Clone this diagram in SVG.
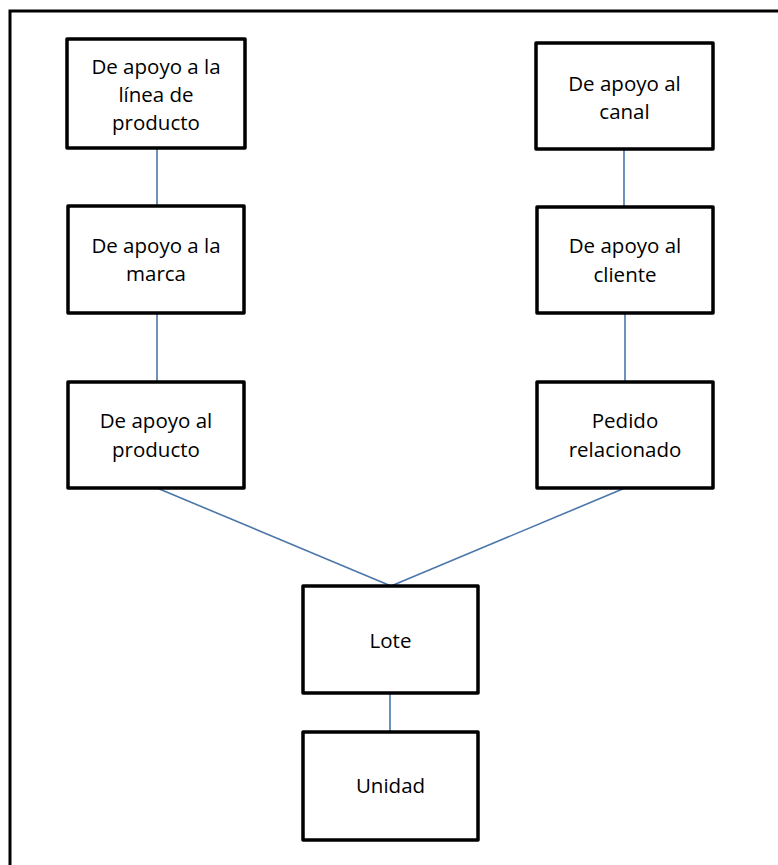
<svg xmlns="http://www.w3.org/2000/svg" width="778" height="865" viewBox="0 0 778 865">
  <style>
    .box { fill: #ffffff; stroke: #000000; stroke-width: 3.5; stroke-linejoin: round; }
    .label { font-family: "Open Sans", "Noto Sans", "Liberation Sans", sans-serif; font-size: 20.5px; fill: #000000; text-anchor: middle; }
    .link { stroke: #4a76aa; stroke-width: 1.6; fill: none; }
  </style>
  <rect width="778" height="865" fill="#ffffff"/>
  <!-- outer frame, open towards the right and bottom edges -->
  <rect x="10" y="11" width="800" height="900" fill="none" stroke="#000000" stroke-width="3"/>

  <g id="connectors">
    <line class="link" x1="157" y1="148" x2="157" y2="206"/>
    <line class="link" x1="157" y1="313" x2="157" y2="382"/>
    <line class="link" x1="624" y1="149" x2="624" y2="207"/>
    <line class="link" x1="625" y1="313" x2="625" y2="382"/>
    <line class="link" x1="157" y1="488" x2="391" y2="586"/>
    <line class="link" x1="625" y1="488" x2="391" y2="586"/>
    <line class="link" x1="390" y1="693" x2="390" y2="732"/>
  </g>

  <g id="linea-producto">
    <rect class="box" x="67" y="39" width="178" height="109"/>
    <text class="label" x="156" y="74">De apoyo a la</text>
    <text class="label" x="156" y="102">línea de</text>
    <text class="label" x="156" y="130">producto</text>
  </g>
  <g id="marca">
    <rect class="box" x="68" y="206" width="176" height="107"/>
    <text class="label" x="156" y="253">De apoyo a la</text>
    <text class="label" x="156" y="281">marca</text>
  </g>
  <g id="producto">
    <rect class="box" x="68" y="382" width="176" height="106"/>
    <text class="label" x="156" y="428">De apoyo al</text>
    <text class="label" x="156" y="457">producto</text>
  </g>

  <g id="canal">
    <rect class="box" x="536" y="43" width="177" height="106"/>
    <text class="label" x="624.5" y="91">De apoyo al</text>
    <text class="label" x="624.5" y="119">canal</text>
  </g>
  <g id="cliente">
    <rect class="box" x="537" y="207" width="176" height="106"/>
    <text class="label" x="625" y="253">De apoyo al</text>
    <text class="label" x="625" y="282">cliente</text>
  </g>
  <g id="pedido">
    <rect class="box" x="537" y="382" width="176" height="106"/>
    <text class="label" x="625" y="428">Pedido</text>
    <text class="label" x="625" y="457">relacionado</text>
  </g>

  <g id="lote">
    <rect class="box" x="303" y="586" width="175" height="107"/>
    <text class="label" x="390.5" y="648">Lote</text>
  </g>
  <g id="unidad">
    <rect class="box" x="303" y="732" width="175" height="108"/>
    <text class="label" x="390.5" y="793">Unidad</text>
  </g>
</svg>
